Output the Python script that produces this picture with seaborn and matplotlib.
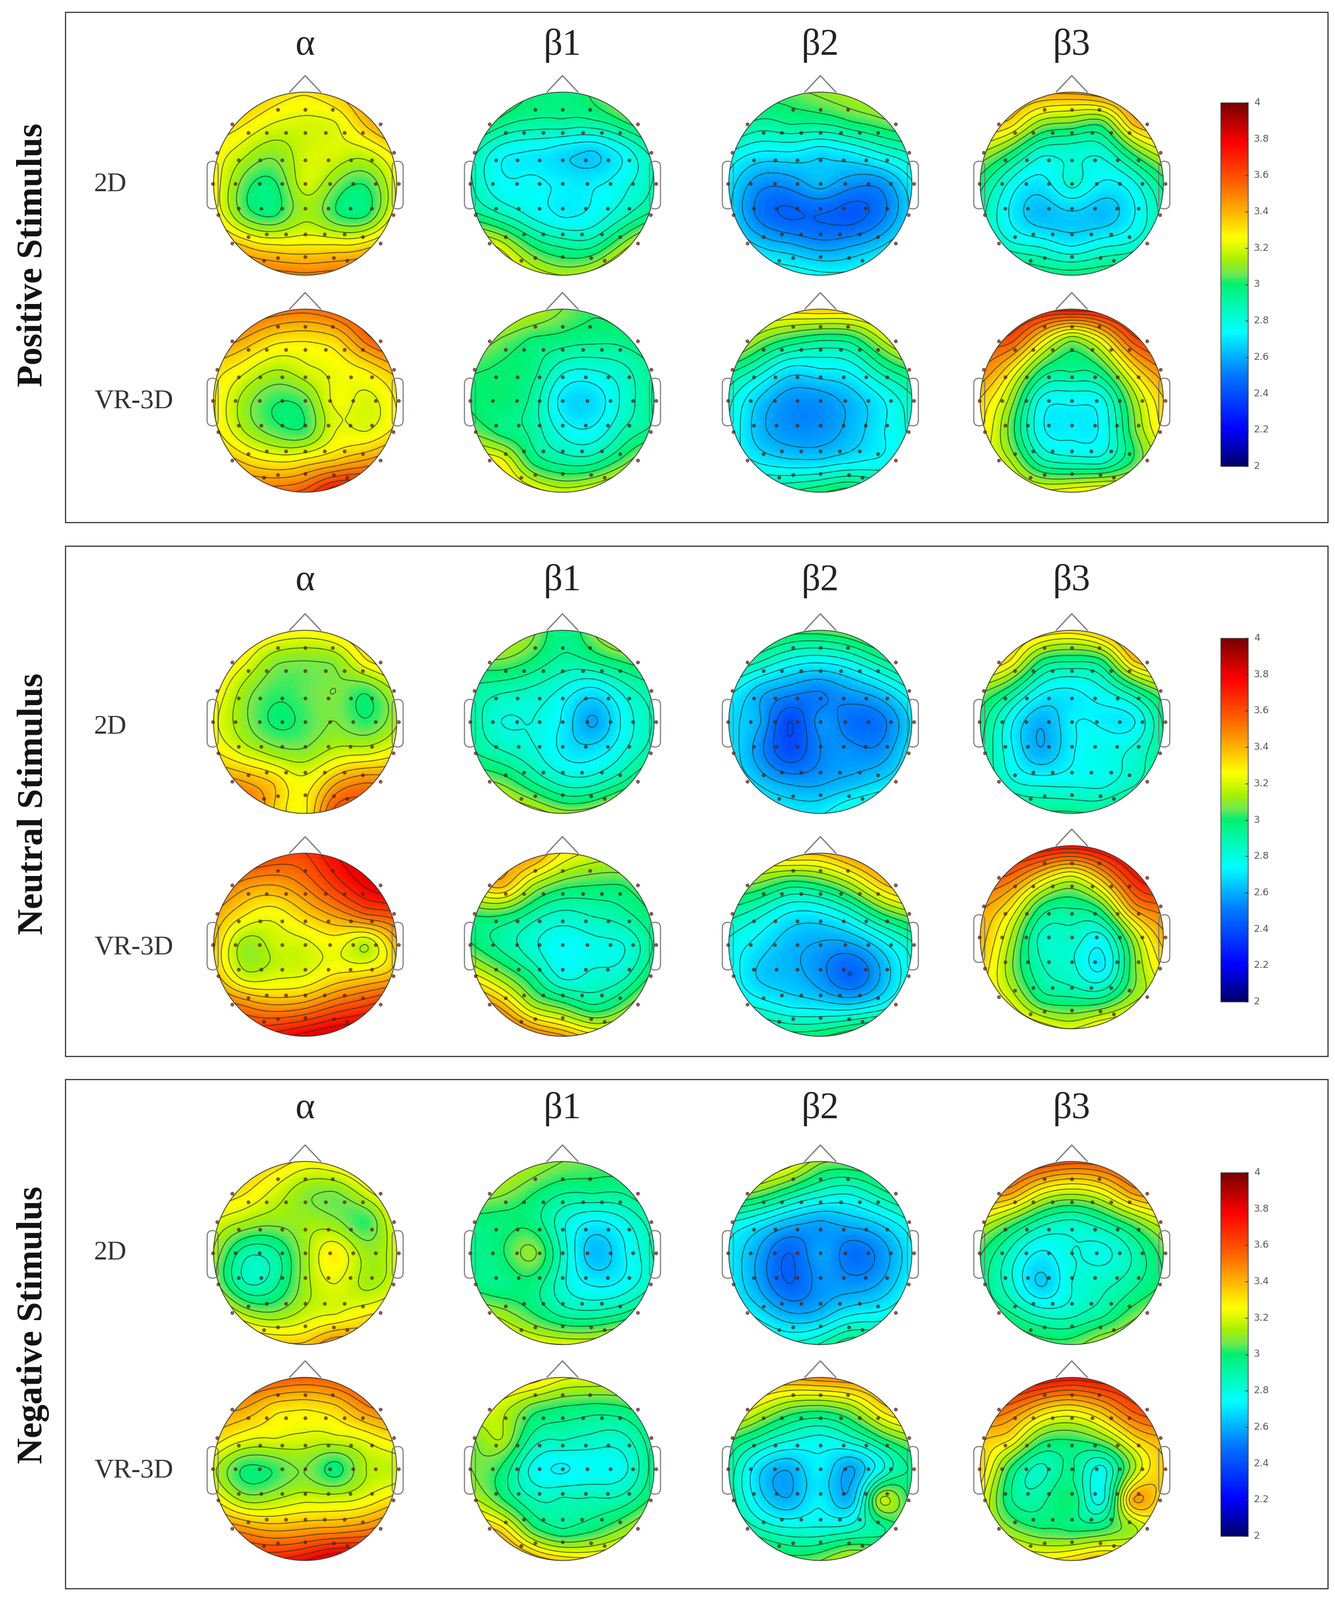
import numpy as np
import pandas as pd
import matplotlib
matplotlib.use("Agg")
import matplotlib.pyplot as plt
from matplotlib.colors import LinearSegmentedColormap
from matplotlib.patches import Circle, FancyBboxPatch, Rectangle
import seaborn as sns

W, H = 2485, 2979

bands = ["α", "β1", "β2", "β3"]
conditions = ["2D", "VR-3D"]
stimuli = ["Positive Stimulus", "Neutral Stimulus", "Negative Stimulus"]
cbar_labels = ["4", "3.8", "3.6", "3.4", "3.2", "3", "2.8", "2.6", "2.4", "2.2", "2"]

# values at 7x7 scalp nodes, front row first, left to right
pos_2d_alpha = [[3.38,3.38,3.33,3.3,3.36,3.45,3.48],[3.35,3.3,3.22,3.2,3.22,3.38,3.5],[3.27,3.17,3.1,3.19,3.2,3.19,3.32],[3.27,3.05,3.0,3.19,3.08,3.02,3.24],[3.29,3.06,3.0,3.13,3.02,3.0,3.27],[3.45,3.35,3.29,3.29,3.29,3.32,3.45],[3.62,3.57,3.54,3.52,3.54,3.57,3.62]]
pos_3d_alpha = [[3.58,3.58,3.55,3.53,3.58,3.65,3.68],[3.48,3.42,3.32,3.3,3.34,3.53,3.63],[3.33,3.24,3.15,3.2,3.24,3.29,3.4],[3.3,3.12,3.02,3.05,3.24,3.2,3.3],[3.32,3.15,3.05,3.03,3.22,3.22,3.32],[3.45,3.35,3.29,3.32,3.38,3.45,3.53],[3.58,3.55,3.55,3.6,3.78,3.75,3.68]]
pos_2d_beta1 = [[3.12,3.07,3.0,2.97,3.02,3.12,3.17],[3.07,2.97,2.92,2.92,2.92,3.0,3.09],[2.9,2.75,2.72,2.68,2.65,2.75,2.9],[2.88,2.75,2.75,2.72,2.72,2.78,2.88],[2.97,2.87,2.78,2.72,2.75,2.85,2.97],[3.28,3.18,3.0,2.92,2.92,3.1,3.28],[3.42,3.35,3.22,3.15,3.2,3.35,3.42]]
pos_3d_beta1 = [[3.22,3.22,3.17,3.08,3.02,3.05,3.1],[3.14,3.07,3.0,2.98,2.96,2.97,3.02],[3.02,3.0,2.97,2.82,2.8,2.85,2.95],[3.0,3.0,2.92,2.7,2.68,2.82,2.95],[3.07,2.98,2.92,2.78,2.75,2.88,2.97],[3.3,3.25,3.0,2.92,2.92,3.05,3.22],[3.45,3.38,3.28,3.2,3.25,3.35,3.4]]
pos_2d_beta2 = [[3.1,3.05,3.05,3.1,3.15,3.2,3.25],[3.0,2.92,2.95,2.95,3.0,3.05,3.1],[2.8,2.72,2.72,2.68,2.72,2.8,2.88],[2.7,2.55,2.55,2.62,2.55,2.55,2.72],[2.68,2.5,2.44,2.45,2.42,2.5,2.68],[2.75,2.65,2.6,2.55,2.58,2.65,2.75],[2.85,2.8,2.78,2.75,2.75,2.8,2.82]]
pos_3d_beta2 = [[3.33,3.33,3.33,3.35,3.35,3.38,3.43],[3.25,3.1,3.0,2.95,2.97,3.15,3.3],[2.97,2.84,2.7,2.72,2.75,2.9,3.02],[2.82,2.65,2.55,2.55,2.62,2.72,2.85],[2.8,2.62,2.55,2.55,2.62,2.72,2.82],[2.78,2.72,2.68,2.68,2.72,2.75,2.8],[2.9,2.92,2.95,3.0,3.05,2.95,2.9]]
pos_2d_beta3 = [[3.5,3.48,3.45,3.45,3.5,3.55,3.58],[3.38,3.33,3.12,3.08,3.05,3.38,3.45],[3.15,3.0,2.82,2.82,2.82,3.02,3.2],[2.97,2.78,2.7,2.82,2.72,2.78,2.97],[2.9,2.72,2.62,2.65,2.62,2.72,2.9],[2.92,2.82,2.78,2.72,2.78,2.82,2.92],[3.05,3.05,3.0,2.98,3.0,3.02,3.05]]
pos_3d_beta3 = [[3.82,3.8,3.76,3.75,3.78,3.85,3.85],[3.6,3.6,3.32,3.1,3.28,3.6,3.7],[3.5,3.3,3.0,2.95,3.0,3.3,3.5],[3.35,3.12,2.78,2.75,2.78,3.1,3.35],[3.3,3.05,2.75,2.72,2.75,3.05,3.3],[3.25,3.15,2.9,2.85,2.85,3.02,3.2],[3.35,3.3,3.25,3.28,3.32,3.3,3.35]]

neu_2d_alpha = [[3.37,3.34,3.3,3.28,3.32,3.4,3.44],[3.32,3.24,3.1,3.08,3.1,3.28,3.37],[3.28,3.12,3.03,3.05,3.08,3.02,3.17],[3.24,3.1,3.0,3.03,3.08,3.02,3.14],[3.3,3.2,3.12,3.1,3.18,3.2,3.27],[3.47,3.44,3.35,3.25,3.42,3.5,3.47],[3.52,3.57,3.35,3.28,3.6,3.57,3.52]]
neu_3d_alpha = [[3.72,3.7,3.64,3.64,3.78,3.85,3.88],[3.57,3.47,3.44,3.52,3.67,3.8,3.85],[3.44,3.3,3.25,3.35,3.45,3.57,3.62],[3.37,3.12,3.18,3.2,3.25,3.15,3.4],[3.4,3.18,3.2,3.22,3.3,3.34,3.42],[3.57,3.5,3.44,3.47,3.57,3.64,3.72],[3.68,3.7,3.75,3.82,3.88,3.88,3.88]]
neu_2d_beta1 = [[3.12,3.17,3.1,2.95,3.08,3.17,3.12],[3.04,3.07,3.0,2.92,2.95,3.02,3.04],[2.92,2.88,2.85,2.78,2.7,2.82,2.92],[2.92,2.8,2.8,2.72,2.58,2.75,2.88],[2.95,2.88,2.82,2.72,2.7,2.8,2.92],[3.12,3.07,2.95,2.85,2.85,2.95,3.1],[3.33,3.28,3.22,3.12,3.15,3.28,3.33]]
neu_3d_beta1 = [[3.42,3.42,3.45,3.28,3.2,3.18,3.18],[3.3,3.4,3.17,3.05,3.02,3.02,3.1],[3.02,3.02,2.92,2.85,2.88,2.92,3.02],[3.02,2.92,2.82,2.75,2.78,2.8,2.95],[3.25,3.1,2.95,2.78,2.82,2.85,3.04],[3.55,3.4,3.15,3.05,2.95,3.05,3.25],[3.78,3.72,3.55,3.45,3.33,3.36,3.45]]
neu_2d_beta2 = [[3.1,3.1,3.05,3.05,3.1,3.2,3.25],[2.95,2.88,2.78,2.75,2.8,2.92,3.05],[2.75,2.62,2.55,2.52,2.58,2.65,2.8],[2.68,2.6,2.38,2.55,2.48,2.5,2.68],[2.7,2.55,2.4,2.52,2.55,2.55,2.72],[2.72,2.65,2.58,2.58,2.62,2.68,2.75],[2.8,2.75,2.72,2.72,2.82,2.85,2.85]]
neu_3d_beta2 = [[3.28,3.33,3.38,3.38,3.48,3.55,3.55],[3.1,3.07,2.98,3.02,3.15,3.35,3.45],[2.9,2.82,2.72,2.72,2.82,3.0,3.12],[2.78,2.7,2.62,2.58,2.58,2.7,2.85],[2.78,2.65,2.62,2.55,2.45,2.6,2.8],[2.82,2.78,2.72,2.7,2.68,2.75,2.85],[3.0,3.02,2.98,3.0,3.08,3.12,3.0]]
neu_2d_beta3 = [[3.45,3.42,3.36,3.33,3.42,3.55,3.58],[3.38,3.28,3.0,2.95,3.0,3.35,3.45],[3.1,2.95,2.75,2.72,2.78,2.92,3.1],[2.98,2.75,2.6,2.72,2.72,2.72,2.95],[2.95,2.75,2.6,2.72,2.78,2.82,2.95],[2.95,2.82,2.78,2.78,2.78,2.85,2.95],[3.02,2.98,2.95,2.95,2.95,3.05,3.05]]
neu_3d_beta3 = [[3.75,3.8,3.8,3.76,3.82,3.88,3.88],[3.6,3.55,3.35,3.22,3.42,3.7,3.8],[3.45,3.3,3.0,2.95,3.05,3.45,3.55],[3.4,3.15,2.85,2.85,2.78,3.12,3.4],[3.35,3.1,2.88,2.82,2.72,3.05,3.3],[3.3,3.2,2.98,2.95,2.95,3.12,3.2],[3.4,3.35,3.28,3.22,3.32,3.35,3.35]]

neg_2d_alpha = [[3.42,3.38,3.34,3.27,3.3,3.36,3.42],[3.35,3.3,3.2,3.1,3.08,3.2,3.33],[3.22,3.14,3.1,3.12,3.1,3.02,3.24],[3.14,2.9,2.92,3.12,3.28,3.12,3.2],[3.12,2.88,2.92,3.12,3.22,3.13,3.2],[3.32,3.15,3.1,3.18,3.22,3.28,3.33],[3.42,3.42,3.38,3.38,3.5,3.46,3.42]]
neg_3d_alpha = [[3.63,3.63,3.6,3.57,3.6,3.66,3.68],[3.45,3.43,3.32,3.3,3.34,3.48,3.53],[3.34,3.24,3.22,3.2,3.2,3.24,3.32],[3.17,3.0,3.02,3.08,2.98,3.15,3.17],[3.3,3.13,3.15,3.2,3.2,3.24,3.33],[3.53,3.47,3.42,3.44,3.46,3.5,3.57],[3.72,3.72,3.72,3.78,3.88,3.84,3.8]]
neg_2d_beta1 = [[3.22,3.2,3.14,3.08,3.05,3.05,3.12],[3.12,3.1,3.02,2.95,2.95,2.95,3.04],[2.98,2.98,2.98,2.82,2.72,2.78,2.92],[2.95,3.0,3.1,2.85,2.62,2.72,2.88],[2.98,2.95,2.98,2.82,2.72,2.75,2.88],[3.17,3.12,3.02,2.92,2.9,2.95,3.07],[3.33,3.3,3.25,3.22,3.22,3.28,3.33]]
neg_3d_beta1 = [[3.32,3.34,3.34,3.24,3.22,3.2,3.18],[3.22,3.18,3.05,3.0,2.98,3.0,3.07],[3.07,3.15,2.92,2.88,2.85,2.85,3.0],[3.08,3.0,2.78,2.72,2.75,2.78,2.98],[3.17,3.02,2.88,2.88,2.88,2.9,3.04],[3.42,3.33,3.05,2.95,3.0,3.1,3.24],[3.6,3.6,3.45,3.35,3.33,3.36,3.4]]
neg_2d_beta2 = [[3.27,3.32,3.27,3.1,3.08,3.12,3.17],[3.12,3.07,2.95,2.85,2.82,2.92,3.02],[2.8,2.72,2.62,2.58,2.62,2.68,2.8],[2.72,2.58,2.45,2.58,2.48,2.55,2.72],[2.72,2.58,2.45,2.55,2.55,2.6,2.75],[2.75,2.7,2.6,2.62,2.72,2.75,2.82],[2.88,2.85,2.82,2.88,3.0,2.95,2.95]]
neg_3d_beta2 = [[3.43,3.45,3.45,3.48,3.5,3.53,3.58],[3.33,3.2,3.08,3.05,3.12,3.32,3.42],[3.04,2.92,2.82,2.78,2.85,3.0,3.12],[2.92,2.68,2.6,2.72,2.58,2.78,2.95],[2.92,2.7,2.6,2.72,2.62,3.16,2.98],[2.98,2.88,2.82,2.82,2.85,2.92,3.0],[3.15,3.12,3.05,3.08,3.2,3.15,3.1]]
neg_2d_beta3 = [[3.73,3.7,3.65,3.6,3.62,3.68,3.68],[3.5,3.45,3.25,3.18,3.25,3.45,3.5],[3.2,3.05,2.9,2.85,2.92,3.05,3.2],[3.02,2.85,2.72,2.8,2.78,2.88,3.04],[2.98,2.82,2.65,2.8,2.85,2.92,3.02],[3.02,2.95,2.85,2.85,2.92,3.05,3.1],[3.15,3.1,3.05,3.05,3.15,3.15,3.15]]
neg_3d_beta3 = [[3.83,3.85,3.8,3.75,3.78,3.78,3.8],[3.6,3.53,3.38,3.32,3.42,3.6,3.65],[3.38,3.3,3.05,3.02,3.1,3.32,3.42],[3.35,3.0,2.85,2.95,2.78,3.12,3.35],[3.25,2.95,2.92,3.0,2.78,3.42,3.3],[3.25,3.1,3.02,3.0,3.02,3.12,3.22],[3.38,3.34,3.3,3.34,3.42,3.38,3.35]]

# electrode positions in head radii
elec_x = [-0.30,0.0,0.30, -0.80,0.82, -0.62,-0.42,-0.21,0.0,0.22,0.43,0.63,
          -0.96,-0.73,-0.49,-0.25,0.0,0.25,0.50,0.73,0.97,
          -1.01,-0.76,-0.50,-0.25,0.0,0.27,0.52,0.77,1.02,
          -0.95,-0.73,-0.48,-0.25,0.0,0.25,0.49,0.73,0.96,
          -0.80,-0.62,-0.42,-0.21,0.0,0.21,0.43,0.63,0.82,
          -0.45,-0.30,0.0,0.31,0.46]
elec_y = [0.81,0.81,0.81, 0.65,0.65, 0.56,0.56,0.56,0.56,0.56,0.56,0.56,
          0.34,0.26,0.26,0.26,0.26,0.26,0.26,0.26,0.34,
          0.0,0.0,0.0,0.0,0.0,0.0,0.0,0.0,0.0,
          -0.34,-0.27,-0.27,-0.27,-0.27,-0.27,-0.27,-0.27,-0.34,
          -0.65,-0.58,-0.55,-0.55,-0.55,-0.55,-0.55,-0.58,-0.65,
          -0.84,-0.81,-0.80,-0.81,-0.84]

heads = [
    [[pos_2d_alpha, pos_2d_beta1, pos_2d_beta2, pos_2d_beta3],
     [pos_3d_alpha, pos_3d_beta1, pos_3d_beta2, pos_3d_beta3]],
    [[neu_2d_alpha, neu_2d_beta1, neu_2d_beta2, neu_2d_beta3],
     [neu_3d_alpha, neu_3d_beta1, neu_3d_beta2, neu_3d_beta3]],
    [[neg_2d_alpha, neg_2d_beta1, neg_2d_beta2, neg_2d_beta3],
     [neg_3d_alpha, neg_3d_beta1, neg_3d_beta2, neg_3d_beta3]],
]

# layout, in reference pixels
COL_X = [568, 1047, 1527, 1995]
ROW_Y = [[342, 746], [1344, 1759], [2333, 2735]]
RADIUS = 171
PANELS = [(23, 973), (1017, 1967), (2010, 2958)]
HEAD_Y = [85, 1082, 2065]
BAR_Y = [(191, 868), (1188, 1865), (2183, 2860)]
LABEL_Y = [[344, 748], [1354, 1765], [2333, 2739]]
SIDE_Y = [475, 1496, 2467]

sns.set_theme(style="white")
plt.rcParams["font.family"] = ["Liberation Serif", "DejaVu Sans"]

cmap = LinearSegmentedColormap.from_list("eeg", [
    (0.00, "#00006e"), (0.10, "#0000ff"), (0.25, "#0078ff"), (0.37, "#00ffff"),
    (0.45, "#00f8a8"), (0.50, "#00f070"), (0.53, "#70e850"), (0.57, "#a8f000"),
    (0.60, "#d8f800"), (0.63, "#ffff00"), (0.70, "#ffb400"), (0.78, "#ff6000"),
    (0.89, "#ff0000"), (1.00, "#7a0000"),
])

fig = plt.figure(figsize=(W / 100, H / 100), dpi=100, facecolor="white")
bg = fig.add_axes([0, 0, 1, 1])
bg.set_xlim(0, W)
bg.set_ylim(H, 0)
bg.axis("off")


def head_axes(cx, cy, half):
    return fig.add_axes([(cx - half) / W, 1 - (cy + half) / H, 2 * half / W, 2 * half / H])


def surface(values, u, v):
    # biharmonic spline through the nodes, same as griddata v4 in the topoplot
    vals = np.array(values, dtype=float).ravel()
    nodes = np.linspace(-1, 1, 7)
    nx, ny = np.meshgrid(nodes, nodes[::-1])
    nx, ny = nx.ravel(), ny.ravel()
    d = np.hypot(nx[:, None] - nx[None, :], ny[:, None] - ny[None, :])
    d[d == 0] = 1
    g = d ** 2 * (np.log(d) - 1)
    np.fill_diagonal(g, 0)
    w = np.linalg.solve(g, vals)
    r = np.hypot(u[..., None] - nx, v[..., None] - ny)
    r = np.where(r == 0, 1e-9, r)
    return (r ** 2 * (np.log(r) - 1) * w).sum(axis=-1)


EXT = 1.22
half = int(EXT * RADIUS)
n = half * 2
edges = (np.arange(n) + 0.5) / n * 2 * EXT - EXT
uu, vv = np.meshgrid(edges, -edges)
to_x = lambda a: (np.asarray(a) + EXT) / (2 * EXT) * n
to_y = lambda a: (EXT - np.asarray(a)) / (2 * EXT) * n
levels = np.arange(2.03, 4.0, 0.07)

for p, panel in enumerate(heads):
    top, bottom = PANELS[p]
    bg.add_patch(Rectangle((122, top), 2472 - 122, bottom - top, fill=False, ec="#3a3a3a", lw=1.6))
    bg.text(62, SIDE_Y[p], stimuli[p], rotation=90, ha="center", va="center", fontsize=48,
            fontweight="bold", color="#111111")
    for j, band in enumerate(bands):
        bg.text(COL_X[j], HEAD_Y[p], band, ha="center", va="center", fontsize=50, color="#222222")
    for r, row in enumerate(panel):
        bg.text(175, LABEL_Y[p][r], conditions[r], ha="left", va="center", fontsize=36, color="#333333")
        for j, values in enumerate(row):
            cy = ROW_Y[p][r]
            if p == 1 and r == 1 and j == 3:
                cy -= 14
            ax = head_axes(COL_X[j], cy, half)
            ax.patch.set_visible(False)
            z = surface(values, uu, vv)
            sns.heatmap(z, mask=np.hypot(uu, vv) > 1.0, cmap=cmap, vmin=2, vmax=4, cbar=False,
                        xticklabels=False, yticklabels=False, ax=ax, rasterized=True)
            cs = ax.contour(np.arange(n) + 0.5, np.arange(n) + 0.5, z, levels=levels,
                            colors="#143214", linewidths=1.15, alpha=0.75)
            circle = Circle((n / 2, n / 2), n / (2 * EXT), transform=ax.transData)
            cs.set_clip_path(circle)
            ax.add_patch(Circle((n / 2, n / 2), n / (2 * EXT), fill=False, ec="#3c3c3c", lw=1.1))
            # nose and ears
            ax.plot(to_x([-0.17, 0, 0.17]), to_y([1.0, 1.18, 1.0]), color="#7c7c7c", lw=1.7)
            for sx in (-1, 1):
                x0 = to_x(0.95 if sx > 0 else -1.07)
                ear = FancyBboxPatch((x0, to_y(0.245)), to_x(0.12) - to_x(0),
                                     to_y(-0.275) - to_y(0.245), boxstyle="round,pad=0,rounding_size=10",
                                     fill=False, ec="#7c7c7c", lw=1.5)
                ax.add_patch(ear)
            dots = pd.DataFrame({"x": to_x(elec_x), "y": to_y(elec_y)})
            sns.scatterplot(data=dots, x="x", y="y", ax=ax, color="#5e2014", s=26, alpha=0.75,
                            linewidth=0, legend=False)
            ax.set_xlim(0, n)
            ax.set_ylim(n, 0)
            ax.axis("off")

    # colour bar
    y0, y1 = BAR_Y[p]
    cax = fig.add_axes([2272 / W, 1 - y1 / H, 51 / W, (y1 - y0) / H])
    grad = np.linspace(4, 2, 400).reshape(-1, 1)
    sns.heatmap(grad, cmap=cmap, vmin=2, vmax=4, cbar=False, xticklabels=False, yticklabels=False,
                ax=cax, rasterized=True)
    cax.axis("off")
    for i, lab in enumerate(cbar_labels):
        yy = y0 + (y1 - y0) * i / (len(cbar_labels) - 1)
        bg.text(2334, yy, lab, ha="left", va="center", fontsize=13, color="#555555",
                family="DejaVu Sans")
        bg.plot([2318, 2323], [yy, yy], color="#333333", lw=1)
    bg.add_patch(Rectangle((2272, y0), 51, y1 - y0, fill=False, ec="#444444", lw=1))

bg.set_zorder(5)
bg.patch.set_visible(False)
fig.savefig("out.png", dpi=100, facecolor="white")
